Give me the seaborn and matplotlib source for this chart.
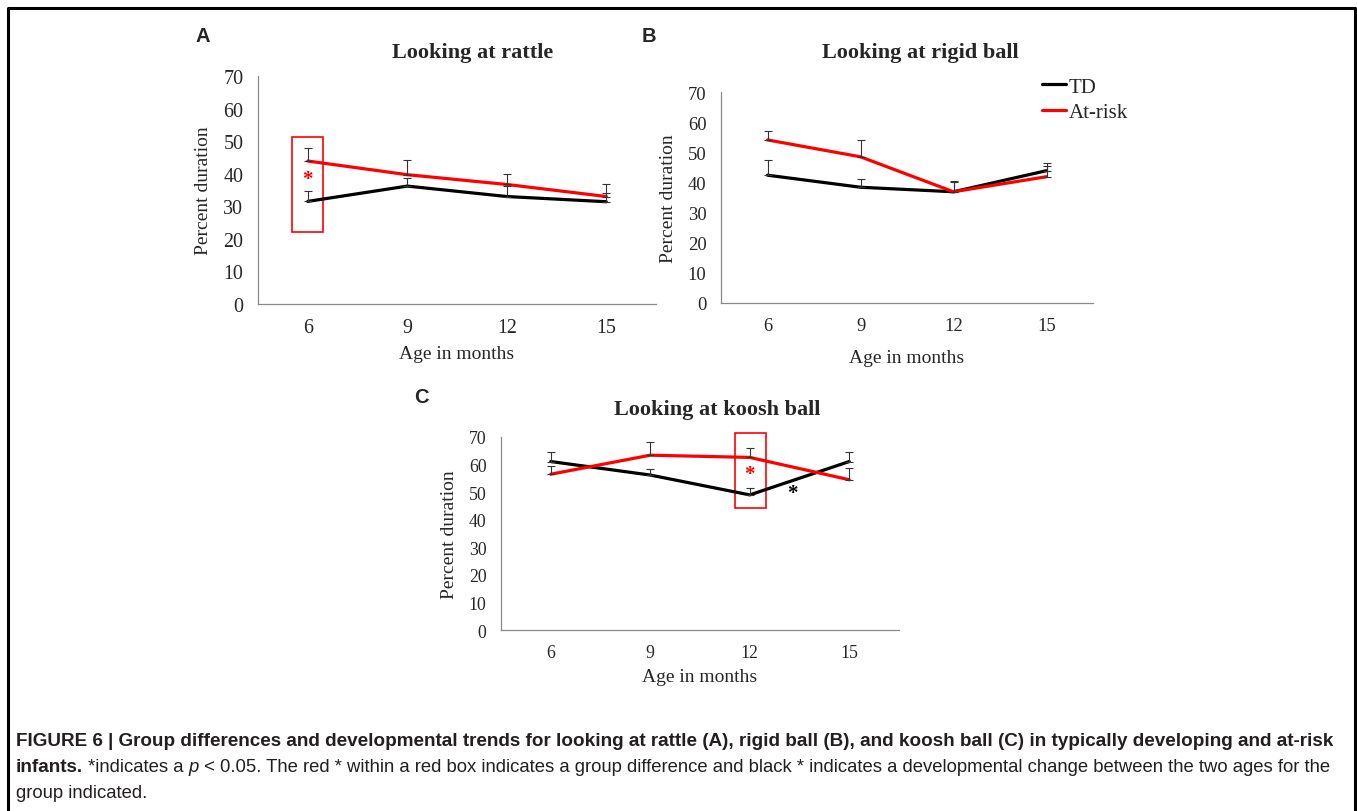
import numpy as np
import pandas as pd
import matplotlib
matplotlib.use('Agg')
import matplotlib.pyplot as plt
from matplotlib.patches import Rectangle
from matplotlib.lines import Line2D
import seaborn as sns

# data (percent duration, mean and upper error)
ages = ['6', '9', '12', '15']

rattle_td = [31.5, 36.2, 33.0, 31.4]
rattle_td_err = [3.1, 2.4, 3.3, 2.6]
rattle_risk = [43.9, 39.7, 36.7, 33.0]
rattle_risk_err = [3.9, 4.6, 3.2, 3.9]

rigid_td = [42.4, 38.4, 36.9, 43.9]
rigid_td_err = [5.2, 2.7, 3.7, 2.7]
rigid_risk = [54.1, 48.5, 36.9, 41.9]
rigid_risk_err = [3.0, 5.6, 3.1, 3.6]

koosh_td = [61.1, 56.2, 49.0, 61.1]
koosh_td_err = [3.6, 2.3, 2.4, 3.5]
koosh_risk = [56.5, 63.4, 62.6, 54.5]
koosh_risk_err = [3.0, 4.8, 3.3, 4.4]

groups = ['TD', 'At-risk']
colors = {'TD': 'black', 'At-risk': 'red'}

sns.set_style('white')
plt.rcParams['font.family'] = ['Liberation Serif', 'DejaVu Serif']

W, H = 1357, 812
fig = plt.figure(figsize=(W / 100, H / 100), dpi=100)
axis_gray = '#8a8a8a'


def px_axes(left, right, top, bottom):
    return fig.add_axes([left / W, 1 - bottom / H, (right - left) / W, (bottom - top) / H])


def panel(ax, td, td_err, risk, risk_err, title, tx, ty, tick_size, xlabel_pad):
    df = pd.DataFrame({
        'pos': list(range(len(ages))) * 2,
        'value': td + risk,
        'group': ['TD'] * len(ages) + ['At-risk'] * len(ages),
    })
    for g, m, e in [('TD', td, td_err), ('At-risk', risk, risk_err)]:
        ax.errorbar(range(len(ages)), m, yerr=[np.zeros(len(m)), e], fmt='none',
                    ecolor='#333333', elinewidth=0.8, capsize=2.8, capthick=0.8, zorder=4)
    sns.lineplot(data=df, x='pos', y='value', hue='group', hue_order=groups,
                 palette=colors, linewidth=2.3, ax=ax, legend=False, zorder=3)
    ax.set_xlim(-0.5, 3.5)
    ax.set_ylim(0, 70)
    ax.set_yticks(range(0, 71, 10))
    ax.set_xticks(np.arange(-0.5, 3.6, 1.0))
    ax.set_xticklabels([])
    ax.set_xticks(range(len(ages)), minor=True)
    ax.set_xticklabels(ages, minor=True)
    ax.tick_params(axis='x', which='major', direction='out', length=5, color=axis_gray, width=0.9)
    ax.tick_params(axis='x', which='minor', length=0, pad=10, labelsize=tick_size)
    ax.tick_params(axis='y', direction='out', length=5, color=axis_gray, width=0.9,
                   labelsize=tick_size, pad=5.5)
    for s in ['top', 'right']:
        ax.spines[s].set_visible(False)
    for s in ['left', 'bottom']:
        ax.spines[s].set_color(axis_gray)
        ax.spines[s].set_linewidth(0.9)
    ax.set_xlabel('Age in months', fontsize=14, labelpad=xlabel_pad)
    ax.set_ylabel('Percent duration', fontsize=14, labelpad=8)
    fig.text(tx / W, 1 - ty / H, title, fontsize=16, weight='bold', ha='center', va='center')
    ax.set_facecolor('none')


# Panel A
axA = px_axes(258, 656, 77, 305)
panel(axA, rattle_td, rattle_td_err, rattle_risk, rattle_risk_err,
      'Looking at rattle', 473, 53, 14.4, 6)
axA.add_patch(Rectangle((-0.16, 22.1), 0.31, 29.2, fill=False, ec='red', lw=1.2, clip_on=False))
axA.text(0, 38.5, '*', color='red', fontsize=15, weight='bold', ha='center', va='center')

# Panel B
axB = px_axes(721, 1093, 93, 304)
panel(axB, rigid_td, rigid_td_err, rigid_risk, rigid_risk_err,
      'Looking at rigid ball', 920, 53, 13.4, 11)
handles = [Line2D([], [], color=colors[g], lw=2.3) for g in groups]
axB.legend(handles, groups, loc='upper left', bbox_to_anchor=(1042 / W, 1 - 78 / H),
           bbox_transform=fig.transFigure, frameon=False, fontsize=15,
           handlelength=1.15, handletextpad=0.15, labelspacing=0.3, borderaxespad=0,
           borderpad=0)

# Panel C
axC = px_axes(501, 899, 438, 631)
panel(axC, koosh_td, koosh_td_err, koosh_risk, koosh_risk_err,
      'Looking at koosh ball', 717, 410, 12.8, 5)
axC.add_patch(Rectangle((1.85, 44.2), 0.31, 27.2, fill=False, ec='red', lw=1.2, clip_on=False))
axC.text(2, 56.5, '*', color='red', fontsize=15, weight='bold', ha='center', va='center')
axC.text(2.43, 49.8, '*', color='black', fontsize=15, weight='bold', ha='center', va='center')

# panel letters
for letter, x, y in [('A', 195, 37), ('B', 642, 36), ('C', 414, 398)]:
    fig.text(x / W, 1 - y / H, letter, fontsize=14.5, weight='bold', family='Liberation Sans',
             ha='left', va='center')

# outer frame (open at the bottom)
fig.add_artist(Line2D([8 / W, 8 / W, 1355 / W, 1355 / W], [0, 1 - 9 / H, 1 - 9 / H, 0],
                      transform=fig.transFigure, color='black', lw=2.2))

# caption
cap = fig.add_axes([0, 0, 1, 1])
cap.axis('off')
cfont = dict(family='Liberation Sans', fontsize=13.3, color='#231f20')
bfont = dict(family='Liberation Sans', fontsize=13.6, color='#231f20', weight='bold')
cap.text(16 / W, 1 - 750 / H,
         'FIGURE 6 | Group differences and developmental trends for looking at rattle (A), '
         'rigid ball (B), and koosh ball (C) in typically developing and at-risk',
         va='bottom', **bfont)
t1 = cap.text(16 / W, 1 - 776 / H, 'infants.', va='bottom', **bfont)
t2 = cap.annotate(' *indicates a ', xy=(1, 0), xycoords=t1, va='bottom', **cfont)
t3 = cap.annotate('p', xy=(1, 0), xycoords=t2, va='bottom', style='italic', **cfont)
cap.annotate(' < 0.05. The red * within a red box indicates a group difference and black * '
             'indicates a developmental change between the two ages for the',
             xy=(1, 0), xycoords=t3, va='bottom', **cfont)
cap.text(16 / W, 1 - 802 / H, 'group indicated.', va='bottom', **cfont)

fig.savefig('out.png', dpi=100)
